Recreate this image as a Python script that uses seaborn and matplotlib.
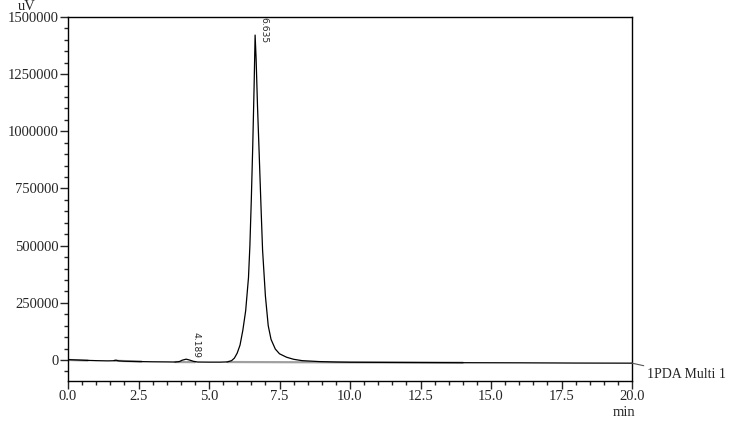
import numpy as np
import pandas as pd
import matplotlib
matplotlib.use('Agg')
import matplotlib.pyplot as plt
from matplotlib.ticker import MultipleLocator, FormatStrFormatter
import seaborn as sns

# chromatogram trace (min, uV)
time_min = [0.0, 0.3, 0.6, 1.0, 1.4, 1.6, 1.7, 1.8, 2.0, 2.5, 3.0, 3.5, 3.8, 3.95,
            4.05, 4.19, 4.3, 4.45, 4.6, 5.0, 5.4, 5.65, 5.8, 5.9, 6.0, 6.1, 6.2,
            6.3, 6.4, 6.45, 6.5, 6.55, 6.6, 6.635, 6.67, 6.72, 6.78, 6.85, 6.9,
            6.95, 7.0, 7.1, 7.2, 7.35, 7.5, 7.75, 8.0, 8.3, 8.9, 9.5, 10.0, 11.0,
            12.0, 14.0, 16.0, 18.0, 20.0]
signal_uv = [1500, 0, -1500, -3000, -4000, -3500, -1000, -4000, -5500, -7000, -8000,
             -8500, -9000, -7000, -1000, 3500, 0, -6000, -9000, -9500, -9500, -8500,
             -3000, 8000, 30000, 65000, 130000, 215000, 360000, 500000, 700000,
             930000, 1200000, 1421000, 1320000, 1110000, 900000, 650000, 480000,
             380000, 280000, 150000, 90000, 48000, 27000, 12000, 3000, -3000, -7000,
             -9000, -10000, -10500, -11000, -12000, -12500, -13500, -14000]

# integration baselines (gray)
base_segments = [
    ([0.0, 0.7], [0, -2500]),
    ([1.65, 2.6], [-3500, -7000]),
    ([3.8, 4.5], [-9000, -9500]),
    ([5.65, 14.0], [-9000, -12000]),
]

peak_times = [4.189, 6.635]
peak_heights = [3500, 1421000]
peak_labels = ['4.189', '6.635']

df = pd.DataFrame({'time': time_min, 'signal': signal_uv})

sns.set_style('ticks')
plt.rcParams['font.family'] = ['Liberation Serif', 'DejaVu Serif']
plt.rcParams['font.size'] = 10.5

fig = plt.figure(figsize=(7.3, 4.22), dpi=100)
ax = fig.add_axes([68 / 730, 1 - 381 / 422, 564 / 730, 364 / 422])

for xs, ys in base_segments:
    ax.plot(xs, ys, color='#a0a0a0', lw=1.6, zorder=1)
sns.lineplot(data=df, x='time', y='signal', color='black', lw=0.9, ax=ax, zorder=2)

# retention time labels, reading downwards, lower end near the apex
label_offsets = [(4, 1), (3, -6)]
for t, h, lab, off in zip(peak_times, peak_heights, peak_labels, label_offsets):
    ax.annotate(lab, xy=(t, h), xytext=off, textcoords='offset points',
                rotation=270, ha='left', va='bottom', fontsize=6.6,
                family=['DejaVu Sans'])

ax.set_xlim(0, 20)
ax.set_ylim(-92000, 1500000)
ax.xaxis.set_major_locator(MultipleLocator(2.5))
ax.xaxis.set_minor_locator(MultipleLocator(0.5))
ax.yaxis.set_major_locator(MultipleLocator(250000))
ax.yaxis.set_minor_locator(MultipleLocator(50000))
ax.xaxis.set_major_formatter(FormatStrFormatter('%.1f'))
ax.yaxis.set_major_formatter(FormatStrFormatter('%d'))
ax.tick_params(which='major', direction='out', length=5.8, width=1, labelsize=10.5, pad=0.8)
ax.tick_params(which='minor', direction='out', length=3, width=1)
for s in ax.spines.values():
    s.set_linewidth(1)
    s.set_color('black')
ax.set_xlabel('')
ax.set_ylabel('')

fig.text(18 / 730, 1 - 7 / 422, 'uV', fontsize=10.5, ha='left', va='center')
fig.text(624 / 730, 1 - 412 / 422, 'min', fontsize=10.5, ha='center', va='center')

# channel label with leader line
ax.annotate('1PDA Multi 1', xy=(20, -14000), xycoords='data',
            xytext=(647 / 730, 1 - 375 / 422), textcoords='figure fraction',
            ha='left', va='center', fontsize=10, annotation_clip=False,
            arrowprops=dict(arrowstyle='-', color='#555555', lw=0.8,
                            shrinkA=0, shrinkB=0))

fig.savefig('out.png', dpi=100)
